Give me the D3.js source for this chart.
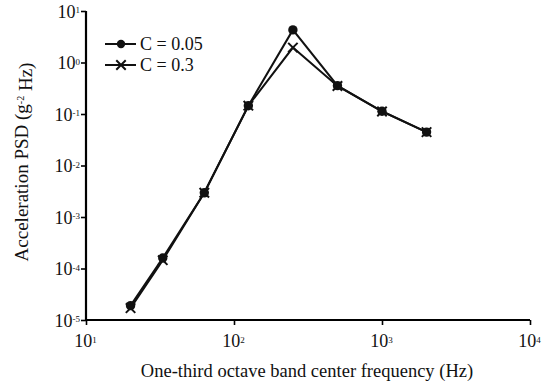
<!DOCTYPE html>
<html>
<head>
<meta charset="utf-8">
<script src="https://cdn.jsdelivr.net/npm/d3@7"></script>
<style>
  body { margin: 0; background: #fff; }
  text { font-family: "Liberation Serif", "Times New Roman", serif; fill: #111; }
</style>
</head>
<body>
<div id="chart"></div>
<script>
// data
const freqs = [20, 33, 63, 125, 250, 500, 1000, 2000];
const psdC005 = [1.9e-5, 1.6e-4, 2.95e-3, 0.145, 4.3, 0.355, 0.113, 0.0445];
const psdC03 = [1.7e-5, 1.45e-4, 2.95e-3, 0.145, 1.95, 0.35, 0.112, 0.0445];
const xTickExps = [1, 2, 3, 4];
const yTickExps = [1, 0, -1, -2, -3, -4, -5];

const width = 544, height = 387;
const svg = d3.select("#chart").append("svg")
    .attr("width", width).attr("height", height);

const x = d3.scaleLog().domain([10, 10000]).range([86, 530]);
const y = d3.scaleLog().domain([1e-5, 10]).range([320, 11]);

// superscript tick label
function powLabel(sel, e) {
    sel.text(null);
    sel.append("tspan").text("10");
    sel.append("tspan").attr("dy", "-0.45em").style("font-size", "9px").text(e);
}

const xAxis = svg.append("g").attr("transform", "translate(0,320)")
    .call(d3.axisBottom(x).tickValues(xTickExps.map(e => Math.pow(10, e))).tickSize(5).tickFormat(""));
xAxis.select(".domain").attr("stroke-width", 2.2).attr("d", "M86,0H530");
xAxis.selectAll(".tick line").attr("stroke-width", 1.6);
xAxis.selectAll(".tick").each(function(d, i) {
    d3.select(this).append("text")
        .attr("y", 27).attr("x", -1).attr("text-anchor", "middle").style("font-size", "18px")
        .call(powLabel, xTickExps[i]);
});

const yAxis = svg.append("g").attr("transform", "translate(86,0)")
    .call(d3.axisLeft(y).tickValues(yTickExps.map(e => Math.pow(10, e))).tickSize(5).tickFormat(""));
yAxis.select(".domain").attr("stroke-width", 2.2).attr("d", "M0,11V320");
yAxis.selectAll(".tick line").attr("stroke-width", 1.6);
yAxis.selectAll(".tick").each(function(d, i) {
    d3.select(this).append("text")
        .attr("x", -6).attr("y", 6).attr("text-anchor", "end").style("font-size", "18px")
        .call(powLabel, yTickExps[i]);
});

// axis titles
svg.append("text").attr("x", 307).attr("y", 377).attr("text-anchor", "middle")
    .style("font-size", "18.5px").text("One-third octave band center frequency (Hz)");
const yt = svg.append("text").attr("transform", "translate(28,162) rotate(-90)")
    .attr("text-anchor", "middle").style("font-size", "19px");
yt.append("tspan").text("Acceleration PSD (g");
yt.append("tspan").attr("dy", "-0.45em").style("font-size", "10px").text("-2");
yt.append("tspan").attr("dy", "0.45em").text(" Hz)");

const line = d3.line().x(d => x(d[0])).y(d => y(d[1]));
const s1 = freqs.map((f, i) => [f, psdC005[i]]);
const s2 = freqs.map((f, i) => [f, psdC03[i]]);

svg.append("path").attr("d", line(s2)).attr("fill", "none").attr("stroke", "#111").attr("stroke-width", 2);
svg.append("path").attr("d", line(s1)).attr("fill", "none").attr("stroke", "#111").attr("stroke-width", 2);

const cross = d3.symbol().type(d3.symbolX).size(60);
svg.selectAll(".c03").data(s2).join("path")
    .attr("transform", d => `translate(${x(d[0])},${y(d[1])})`)
    .attr("d", cross).attr("stroke", "#111").attr("stroke-width", 2).attr("fill", "none");
svg.selectAll(".c005").data(s1).join("circle")
    .attr("cx", d => x(d[0])).attr("cy", d => y(d[1])).attr("r", 4.7).attr("fill", "#111");

// legend
const leg = svg.append("g");
leg.append("line").attr("x1", 105).attr("x2", 136).attr("y1", 44).attr("y2", 44).attr("stroke", "#111").attr("stroke-width", 2);
leg.append("circle").attr("cx", 121).attr("cy", 44).attr("r", 4.2).attr("fill", "#111");
leg.append("text").attr("x", 140).attr("y", 50).style("font-size", "18px").text("C = 0.05");
leg.append("line").attr("x1", 105).attr("x2", 136).attr("y1", 65).attr("y2", 65).attr("stroke", "#111").attr("stroke-width", 2);
leg.append("path").attr("transform", "translate(121,65)").attr("d", cross).attr("stroke", "#111").attr("stroke-width", 2).attr("fill", "none");
leg.append("text").attr("x", 140).attr("y", 71).style("font-size", "18px").text("C = 0.3");
</script>
</body>
</html>
